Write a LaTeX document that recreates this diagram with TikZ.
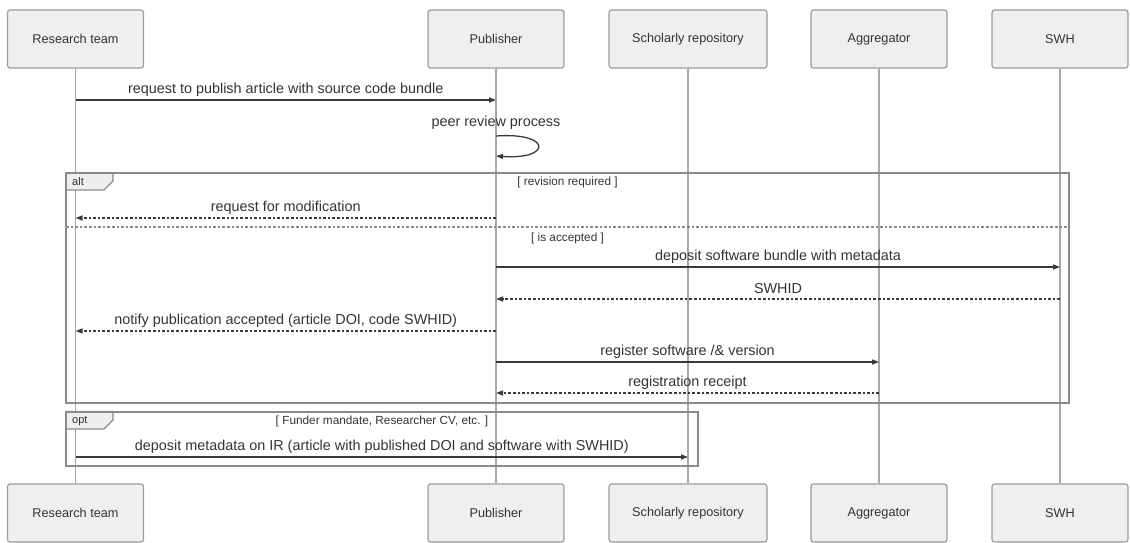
\documentclass[tikz,border=0pt]{standalone}
\usepackage{fontspec}
\setmainfont{Liberation Sans}
\usetikzlibrary{arrows.meta}
\definecolor{boxfill}{HTML}{EFEFEF}
\definecolor{boxline}{HTML}{9A9A9A}
\definecolor{lifec}{HTML}{A8A8A8}
\definecolor{msgc}{HTML}{3A3A3A}
\definecolor{framec}{HTML}{8A8A8A}
\definecolor{tabfill}{HTML}{EEEEEE}
\definecolor{txt}{HTML}{333333}
\begin{document}
\begin{tikzpicture}[x=1pt,y=-1pt,
  actor/.style={draw=boxline, fill=boxfill, rounded corners=2.5pt, line width=1.1pt,
    minimum width=136pt, minimum height=58pt, inner sep=0pt, text=txt,
    font=\fontsize{12.7}{15}\selectfont},
  life/.style={draw=lifec, line width=1.1pt},
  msg/.style={draw=msgc, line width=1.3pt, -{Triangle[length=7pt,width=5pt]}},
  reply/.style={msg, dash pattern=on 2.6pt off 2pt},
  lbl/.style={text=txt, inner sep=0pt, font=\fontsize{14.4}{17}\selectfont},
  guard/.style={text=txt, inner sep=0pt, font=\fontsize{11.8}{14}\selectfont},
  fragframe/.style={draw=framec, line width=2pt},
  fragsep/.style={draw=framec, line width=1.8pt, dash pattern=on 2.6pt off 2pt},
  fragtab/.style={draw=framec, fill=tabfill, line width=1.1pt},
  tabtext/.style={text=txt, inner sep=0pt, anchor=west, font=\fontsize{11}{13}\selectfont}
]
\useasboundingbox (0,0) rectangle (1130,543);

% actors top
\node[actor] (rtT) at (75.5,39) {Research team};
\node[actor] (pubT) at (496,39) {Publisher};
\node[actor, minimum width=158pt] (srT) at (688,39) {Scholarly repository};
\node[actor] (agT) at (879,39) {Aggregator};
\node[actor] (swT) at (1060,39) {SWH};
% actors bottom
\node[actor] (rtB) at (75.5,513) {Research team};
\node[actor] (pubB) at (496,513) {Publisher};
\node[actor, minimum width=158pt] (srB) at (688,513) {Scholarly repository};
\node[actor] (agB) at (879,513) {Aggregator};
\node[actor] (swB) at (1060,513) {SWH};

% lifelines
\draw[life] (rtT) -- (rtB);
\draw[life] (pubT) -- (pubB);
\draw[life] (srT) -- (srB);
\draw[life] (agT) -- (agB);
\draw[life] (swT) -- (swB);

% alt fragment
\coordinate (altNW) at (66,173);
\coordinate (altSE) at (1069,403);
\draw[fragframe] (altNW) rectangle (altSE);
\draw[fragtab] (66,173) -- (113,173) -- (113,181) -- (104,190) -- (66,190) -- cycle;
\draw[fragframe] (66,190) -- (altNW) -- (113,173);
\node[tabtext] (alttab) at (72,182) {alt};
\node[guard] (g1) at (567.5,182.5) {[ revision required ]};
\coordinate (sepL) at (66,227);
\coordinate (sepR) at (1069,227);
\draw[fragsep] (sepL) -- (sepR);
\node[guard] (g2) at (567.5,238) {[ is accepted ]};

% opt fragment
\coordinate (optNW) at (66,411.5);
\coordinate (optSE) at (698,466);
\draw[fragframe] (optNW) rectangle (optSE);
\draw[fragtab] (66,411.5) -- (113,411.5) -- (113,420) -- (104,429) -- (66,429) -- cycle;
\draw[fragframe] (66,429) -- (optNW) -- (113,411.5);
\node[tabtext] (opttab) at (72,421.5) {opt};
\node[guard] (g3) at (382,421.5) {[ Funder mandate, Researcher CV, etc. ]};

% messages
\draw[msg] (rtT |- 0,100) -- node[lbl, yshift=10pt] {request to publish article with source code bundle} (pubT |- 0,100);
\node[lbl] (peer) at (496,123) {peer review process};
\draw[msg] (pubT |- 0,136) .. controls (552,132) and (552,160) .. (pubT |- 0,156);
\draw[reply] (pubT |- 0,218) -- node[lbl, yshift=10pt] {request for modification} (rtT |- 0,218);
\draw[msg] (pubT |- 0,267) -- node[lbl, yshift=10pt] {deposit software bundle with metadata} (swT |- 0,267);
\draw[reply] (swT |- 0,299) -- node[lbl, yshift=10pt] {SWHID} (pubT |- 0,299);
\draw[reply] (pubT |- 0,331) -- node[lbl, yshift=10pt] {notify publication accepted (article DOI, code SWHID)} (rtT |- 0,331);
\draw[msg] (pubT |- 0,362) -- node[lbl, yshift=10pt] {register software /\& version} (agT |- 0,362);
\draw[reply] (agT |- 0,393) -- node[lbl, yshift=10pt] {registration receipt} (pubT |- 0,393);
\draw[msg] (rtT |- 0,457) -- node[lbl, yshift=10pt] {deposit metadata on IR (article with published DOI and software with SWHID)} (srT |- 0,457);
\end{tikzpicture}
\end{document}
